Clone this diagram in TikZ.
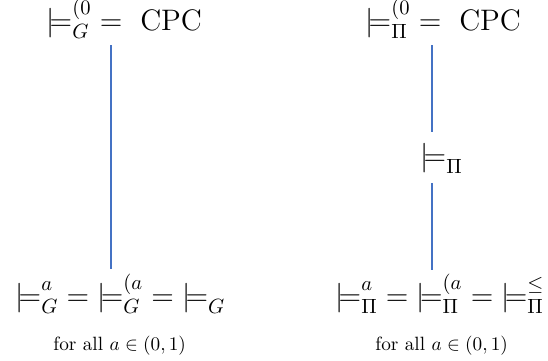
\documentclass[tikz,border=0pt]{standalone}
\usepackage{amsmath}
\usepackage{tikz}
\usetikzlibrary{positioning, calc}
\definecolor{lnblue}{RGB}{68,114,196}
\newcommand{\sat}{{\models}}

\begin{document}
\begin{tikzpicture}[x=0.52pt, y=-0.52pt,
  logic/.style={inner sep=0pt, anchor=base west, font=\fontsize{14.4}{17}\selectfont, scale=1.07, transform shape},
  note/.style={inner sep=0pt, anchor=base west, font=\fontsize{10}{12}\selectfont},
  link/.style={draw=lnblue, line width=0.75pt}
]
\useasboundingbox (0,0) rectangle (548,361);

% Goedel side
\node[logic] (gtop) at (46,30) {$\sat^{(0}_{G} = \ \text{CPC}$};
\node[logic] (gbot) at (15,305) {$\sat^{a}_{G} = \sat^{(a}_{G} = \sat_{G}$};
\node[note] (gnote) at (53,350) {for all $a \in (0,1)$};
\coordinate (gaxis) at (111,0);

% product side
\node[logic] (ptop) at (365,30) {$\sat^{(0}_{\Pi} = \ \text{CPC}$};
\node[logic] (pmid) at (420,165) {$\sat_{\Pi}$};
\node[logic] (pbot) at (335,305) {$\sat^{a}_{\Pi} = \sat^{(a}_{\Pi} = \sat^{\leq}_{\Pi}$};
\node[note] (pnote) at (375,350) {for all $a \in (0,1)$};
\coordinate (paxis) at (432,0);

\draw[link, shorten <=3.3pt, shorten >=2.3pt] (gtop.south -| gaxis) -- (gbot.north -| gaxis);
\draw[link, shorten <=3.3pt, shorten >=5.2pt] (ptop.south -| paxis) -- (pmid.north -| paxis);
\draw[link, shorten <=4.7pt, shorten >=1.8pt] (pmid.south -| paxis) -- (pbot.north -| paxis);
\end{tikzpicture}
\end{document}
